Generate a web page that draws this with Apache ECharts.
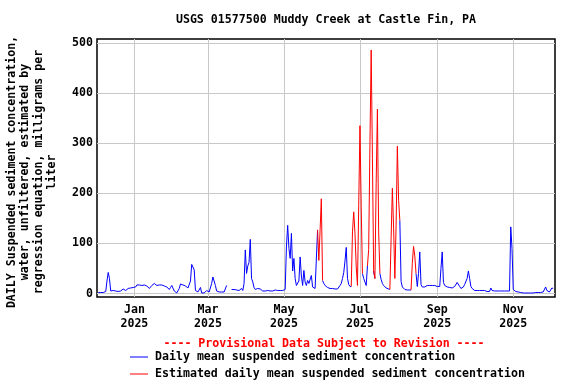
<!DOCTYPE html>
<html>
<head>
<meta charset="utf-8">
<script src="https://cdn.jsdelivr.net/npm/echarts@6/dist/echarts.min.js"></script>
<style>
  html, body { margin: 0; padding: 0; background: #fff; }
  #main { width: 576px; height: 384px; }
</style>
</head>
<body>
<div id="main"></div>
<script>
// daily mean suspended sediment, mg/L, one array per month (first value = first day shown)
const firstDate = '2024-12-03';
const dec2024 = [2, 2, 2, 2, 2, 2, 4, 25, 42, 30, 5, 4, 6, 9, 5, 5, 4, 5, 5, 6, 9, 9, 6, 7, 10, 12, 11, 12, 12];
const jan2025 = [13, 13, 17, 18, 17, 15, 16, 17, 17, 16, 15, 12, 10, 13, 16, 19, 20, 17, 16, 17, 17, 17, 17, 16, 15, 14, 13, 11, 8, 12, 16];
const feb2025 = [18, 5, 2, 1, 4, 10, 19, 18, 17, 17, 15, 13, 11, 8, 25, 58, 61, 47, 6, 3, 3, 3, 12, 1, 1, 1, 2, 6];
const mar2025 = [3, 3, 3, 20, 33, 35, 16, 5, 4, 3, 3, 3, 3, 3, 4, 16, null, null, null, 8, 8, 8, 8, 7, 6, 6, 6, 10, 6, 20, 87];
const apr2025 = [40, 55, 62, 108, 30, 23, 12, 8, 6, 10, 12, 9, 6, 5, 5, 5, 6, 6, 5, 5, 6, 5, 6, 7, 8, 6, 8, 6, 7, 6];
const may2025 = [7, 8, 93, 136, 90, 70, 120, 45, 70, 30, 16, 16, 25, 73, 35, 16, 46, 23, 16, 26, 20, 18, 36, 13, 10, 10, 12, 127, 66, 126, 189];
const jun2025 = [26, 20, 16, 13, 12, 11, 10, 10, 10, 11, 9, 8, 9, 12, 16, 20, 30, 42, 65, 92, 30, 18, 14, 14, 123, 163, 120, 53, 16, 175];
const jul2025 = [335, 173, 40, 30, 23, 16, 55, 88, 296, 486, 270, 45, 30, 220, 368, 125, 40, 28, 20, 16, 13, 11, 10, 9, 8, 110, 210, 130, 30, 136, 294];
const aug2025 = [186, 146, 24, 13, 10, 8, 7, 7, 7, 7, 7, 60, 94, 75, 40, 14, 40, 83, 18, 13, 12, 13, 16, 16, 16, 16, 16, 16, 16, 16, 16];
const sep2025 = [14, 14, 14, 50, 83, 22, 16, 14, 13, 12, 12, 12, 11, 13, 14, 15, 22, 23, 14, 10, 11, 13, 18, 16, 30, 45, 30, 14, 10, 7];
const oct2025 = [6, 6, 6, 6, 6, 6, 6, 6, 6, 5, 4, 4, 4, 11, 6, 5, 5, 5, 5, 5, 5, 5, 5, 5, 5, 5, 5, 5, 5, 133, 90];
const nov2025 = [8, 5, 4, 3, 3, 2, 2, 1, 1, 1, 1, 1, 1, 1, 1, 1, 1, 2, 2, 2, 2, 2, 2, 3, 3, 5, 13, 6, 4, 3];
const dec2025 = [3, 11, 10];

// days flagged as estimated (drawn red)
const estimatedDates = [
  '2025-05-29', '2025-05-30', '2025-05-31',
  '2025-06-25', '2025-06-26', '2025-06-27', '2025-06-28',
  '2025-06-30', '2025-07-01', '2025-07-02',
  '2025-07-08', '2025-07-09', '2025-07-10', '2025-07-11',
  '2025-07-14', '2025-07-15', '2025-07-16',
  '2025-07-26', '2025-07-27', '2025-07-28',
  '2025-07-30', '2025-07-31', '2025-08-01',
  '2025-08-12', '2025-08-13', '2025-08-14'
];

const tickDates = ['2025-01-01', '2025-03-01', '2025-05-01', '2025-07-01', '2025-09-01', '2025-11-01'];
const tickLabels = ['Jan\n2025', 'Mar\n2025', 'May\n2025', 'Jul\n2025', 'Sep\n2025', 'Nov\n2025'];
const yTicks = [0, 100, 200, 300, 400, 500];

// day number counted from 2024-12-01
function dayNum(s) {
  const p = s.split('-').map(Number);
  return Math.round((Date.UTC(p[0], p[1] - 1, p[2]) - Date.UTC(2024, 11, 1)) / 86400000);
}

const daily = [].concat(dec2024, jan2025, feb2025, mar2025, apr2025, may2025, jun2025,
  jul2025, aug2025, sep2025, oct2025, nov2025, dec2025);
const d0 = dayNum(firstDate);
const estSet = new Set(estimatedDates.map(dayNum));

const blueData = [], redData = [];
daily.forEach(function (v, i) {
  const d = d0 + i;
  const e = estSet.has(d);
  blueData.push([d, e ? null : v]);
  const nearEst = e || estSet.has(d - 1) || estSet.has(d + 1);
  redData.push([d, nearEst ? v : null]);
});

const tickDays = tickDates.map(dayNum);
const labelOf = {};
tickDays.forEach(function (d, i) { labelOf[d] = tickLabels[i]; });

const font = 'DejaVu Sans Mono';

let myChart = echarts.init(document.getElementById('main'));
myChart.setOption({
  backgroundColor: '#fff',
  animation: false,
  title: [
    {
      text: 'USGS 01577500 Muddy Creek at Castle Fin, PA',
      left: 321, top: 9, textAlign: 'center',
      textStyle: { fontFamily: font, fontSize: 11.6, fontWeight: 'bold', color: '#000' }
    },
    {
      text: '---- Provisional Data Subject to Revision ----',
      left: 319, top: 333, textAlign: 'center',
      textStyle: { fontFamily: font, fontSize: 11.6, fontWeight: 'bold', color: '#ff0000' }
    }
  ],
  legend: {
    orient: 'vertical',
    left: 130, top: 350,
    padding: 0,
    itemWidth: 18, itemHeight: 1,
    itemGap: 3,
    textStyle: { fontFamily: font, fontSize: 11.6, fontWeight: 'bold', color: '#000', lineHeight: 14, padding: [0, 0, 0, 2] },
    data: [
      { name: 'Daily mean suspended sediment concentration', icon: 'rect' },
      { name: 'Estimated daily mean suspended sediment concentration', icon: 'rect' }
    ]
  },
  grid: {
    left: 97, right: 21, top: 39, bottom: 87,
    outerBoundsMode: 'none',
    containLabel: false,
    show: true, borderColor: '#000', borderWidth: 1.5, backgroundColor: '#fff'
  },
  xAxis: {
    type: 'value',
    min: 1, max: 368.5,
    axisLine: { show: false },
    axisTick: { show: false, customValues: tickDays },
    splitLine: { show: true, lineStyle: { color: '#c8c8c8', width: 1 } },
    axisLabel: {
      customValues: tickDays,
      formatter: function (v) { return labelOf[v] || ''; },
      fontFamily: font, fontSize: 11.6, fontWeight: 'bold', color: '#000',
      lineHeight: 14, margin: 6
    }
  },
  yAxis: {
    type: 'value',
    min: -7, max: 508,
    name: 'DAILY Suspended sediment concentration,\nwater, unfiltered, estimated by\nregression equation, milligrams per\nliter',
    nameLocation: 'middle',
    nameRotate: 90,
    nameGap: 38,
    nameTextStyle: {
      fontFamily: font, fontSize: 11.6, fontWeight: 'bold', color: '#000',
      lineHeight: 13.5, align: 'center', padding: [0, 8, 0, 0]
    },
    axisLine: { show: false },
    axisTick: { show: false, customValues: yTicks },
    splitLine: { show: true, lineStyle: { color: '#c8c8c8', width: 1 } },
    axisLabel: {
      customValues: yTicks,
      fontFamily: font, fontSize: 11.6, fontWeight: 'bold', color: '#000', margin: 4
    }
  },
  series: [
    {
      name: 'Daily mean suspended sediment concentration',
      type: 'line',
      data: blueData,
      showSymbol: false,
      connectNulls: false,
      itemStyle: { color: '#0000ff' },
      lineStyle: { color: '#0000ff', width: 1 }
    },
    {
      name: 'Estimated daily mean suspended sediment concentration',
      type: 'line',
      data: redData,
      showSymbol: false,
      connectNulls: false,
      itemStyle: { color: '#ff0000' },
      lineStyle: { color: '#ff0000', width: 1 }
    }
  ]
});
</script>
</body>
</html>
